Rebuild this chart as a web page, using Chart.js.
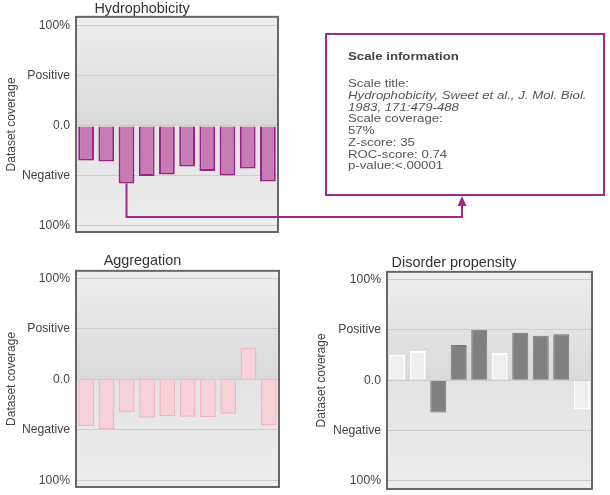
<!DOCTYPE html>
<html>
<head>
<meta charset="utf-8">
<script src="https://cdn.jsdelivr.net/npm/chart.js@4.4.1/dist/chart.umd.min.js"></script>
<style>
    body { margin: 0; background: #fff; width: 610px; height: 495px; position: relative; overflow: hidden;
           font-family: "Liberation Sans", Arial, sans-serif; }
    canvas { position: absolute; }
    #info { position: absolute; left: 325px; top: 33px; width: 280px; height: 163px; box-sizing: border-box;
            border: 2px solid #a0288a; background: #fff; padding: 15px 0 0 21px; z-index: 2; }
    #info .txt { transform: scaleX(1.14); transform-origin: left top; font-size: 11.6px; line-height: 11.7px;
                 color: #555; white-space: nowrap; }
    #info .head { font-weight: bold; margin-bottom: 15.6px; color: #444; }
    #info i { font-style: italic; }
</style>
</head>
<body>
<canvas id="hydro" width="604" height="240" style="left:6px;top:0"></canvas>
<canvas id="aggr" width="285" height="245" style="left:6px;top:250px"></canvas>
<canvas id="disorder" width="294" height="245" style="left:316px;top:250px"></canvas>
<div id="info">
    <div class="txt">
        <div class="head">Scale information</div>
        <div>Scale title:</div>
        <div><i>Hydrophobicity, Sweet et al., J. Mol. Biol.</i></div>
        <div><i>1983, 171:479-488</i></div>
        <div>Scale coverage:</div>
        <div>57%</div>
        <div>Z-score: 35</div>
        <div>ROC-score: 0.74</div>
        <div>p-value:&lt;.00001</div>
    </div>
</div>
<script>
const categories = ['1', '2', '3', '4', '5', '6', '7', '8', '9', '10'];
const tickValues = [-2, -1, 0, 1, 2];
const tickLabels = ['100%', 'Negative', '0.0', 'Positive', '100%'];

const hydrophobicity = [-0.69, -0.71, -1.15, -1.00, -0.97, -0.81, -0.90, -0.99, -0.85, -1.11];
const aggregation = [-0.92, -0.98, -0.65, -0.76, -0.73, -0.74, -0.75, -0.68, 0.63, -0.91];
const disorder = [0.51, 0.58, -0.64, 0.70, 1.00, 0.54, 0.94, 0.88, 0.91, -0.58];
const disorderFilled = [false, false, true, true, true, false, true, true, true, false];
const highlightIndex = 2; // bar linked to the info box

Chart.defaults.font.family = '"Liberation Sans", Arial, sans-serif';
Chart.defaults.color = '#444';

const panelFrame = {
    id: 'panelFrame',
    beforeDraw(chart) {
        const { ctx, chartArea: a, scales: { y } } = chart;
        const zero = (y.getPixelForValue(0) - a.top) / (a.bottom - a.top);
        const g = ctx.createLinearGradient(0, a.top, 0, a.bottom);
        g.addColorStop(0, '#eeeeee');
        g.addColorStop(zero, '#d9d9d9');
        g.addColorStop(Math.min(1, zero + 0.003), '#e3e3e3');
        g.addColorStop(1, '#ededed');
        ctx.save();
        ctx.fillStyle = g;
        ctx.fillRect(a.left, a.top, a.right - a.left, a.bottom - a.top);
        ctx.restore();
    },
    afterDraw(chart) {
        const { ctx, chartArea: a } = chart;
        ctx.save();
        ctx.strokeStyle = '#676767';
        ctx.lineWidth = 2;
        ctx.strokeRect(a.left, a.top, a.right - a.left, a.bottom - a.top);
        ctx.restore();
    }
};

const connector = {
    id: 'connector',
    afterDraw(chart) {
        const bar = chart.getDatasetMeta(0).data[highlightIndex];
        const ctx = chart.ctx;
        const arrowX = 456, elbowY = 217, tipY = 196;
        ctx.save();
        ctx.strokeStyle = '#a0288a';
        ctx.fillStyle = '#a0288a';
        ctx.lineWidth = 2;
        ctx.beginPath();
        ctx.moveTo(bar.x, bar.y);
        ctx.lineTo(bar.x, elbowY);
        ctx.lineTo(arrowX, elbowY);
        ctx.lineTo(arrowX, tipY + 9);
        ctx.stroke();
        ctx.beginPath();
        ctx.moveTo(arrowX - 4.5, tipY + 10);
        ctx.lineTo(arrowX + 4.5, tipY + 10);
        ctx.lineTo(arrowX, tipY);
        ctx.closePath();
        ctx.fill();
        ctx.restore();
    }
};

function makePanel(id, title, values, style, opts) {
    return new Chart(document.getElementById(id), {
        type: 'bar',
        data: {
            labels: categories,
            datasets: [{
                data: values,
                backgroundColor: style.fill,
                borderColor: style.border,
                borderWidth: style.borderWidth,
                categoryPercentage: 1,
                barPercentage: 0.78
            }]
        },
        options: {
            responsive: false,
            animation: false,
            layout: { padding: opts.padding },
            plugins: {
                legend: { display: false },
                tooltip: { enabled: false },
                title: {
                    display: true,
                    text: title,
                    color: '#333',
                    font: { size: 14.4, weight: 'normal', lineHeight: 1.1 },
                    padding: opts.titlePadding
                }
            },
            scales: {
                x: { display: false },
                y: {
                    min: opts.min,
                    max: opts.max,
                    afterBuildTicks: (scale) => { scale.ticks = tickValues.map(v => ({ value: v })); },
                    afterFit: (scale) => {
                        scale.width = opts.axisWidth;
                        scale.paddingTop = 0;
                        scale.paddingBottom = 0;
                    },
                    ticks: {
                        padding: 6,
                        color: '#444',
                        font: { size: 12.2 },
                        callback: (v) => tickLabels[tickValues.indexOf(v)]
                    },
                    grid: { color: '#cdcdcd', drawTicks: false, tickLength: 0 },
                    border: { display: false },
                    title: {
                        display: true,
                        text: 'Dataset coverage',
                        color: '#444',
                        font: { size: 12, lineHeight: 1 },
                        padding: 0
                    }
                }
            }
        },
        plugins: opts.plugins
    });
}

makePanel('hydro', 'Hydrophobicity', hydrophobicity,
    { fill: '#c77bb5', border: '#9c2386', borderWidth: 2 },
    { min: -2.12, max: 2.18, axisWidth: 70, padding: { left: 0, right: 332, top: 0, bottom: 8 },
      titlePadding: { top: 1, bottom: 0 }, plugins: [panelFrame, connector] });

makePanel('aggr', 'Aggregation', aggregation,
    { fill: '#f8d0d8', border: '#f3b6c3', borderWidth: 1.5 },
    { min: -2.13, max: 2.15, axisWidth: 70, padding: { left: 0, right: 12, top: 0, bottom: 8 },
      titlePadding: { top: 3, bottom: 2 }, plugins: [panelFrame] });

makePanel('disorder', 'Disorder propensity', disorder,
    { fill: disorderFilled.map(f => f ? '#808080' : '#efefef'),
      border: disorderFilled.map(f => f ? '#777777' : '#ffffff'),
      borderWidth: disorderFilled.map(f => f ? 1 : 2) },
    { min: -2.16, max: 2.15, axisWidth: 71, padding: { left: 0, right: 18, top: 0, bottom: 6 },
      titlePadding: { top: 5, bottom: 1 }, plugins: [panelFrame] });
</script>
</body>
</html>
